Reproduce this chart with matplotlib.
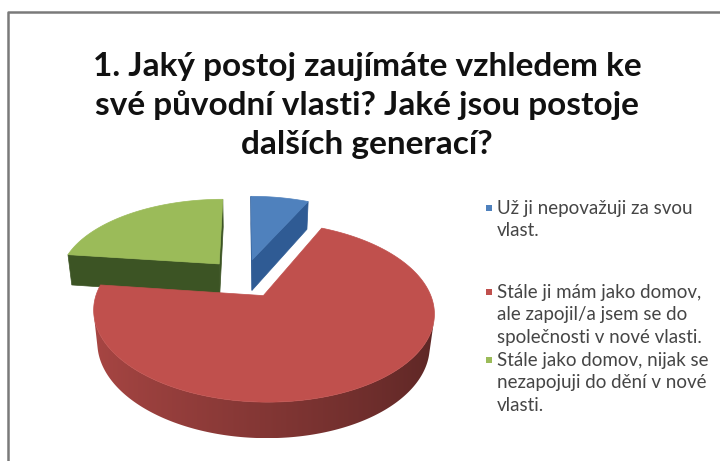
import numpy as np
import matplotlib
matplotlib.use("Agg")
import matplotlib.pyplot as plt
from matplotlib.patches import Polygon, Rectangle
from matplotlib.colors import to_rgb

# data
title_lines = ["1. Jaký postoj zaujímáte vzhledem ke",
               "své původní vlasti? Jaké jsou postoje",
               "dalších generací?"]
labels = ["Už ji nepovažuji za svou\nvlast.",
          "Stále ji mám jako domov,\nale zapojil/a jsem se do\nspolečnosti v nové vlasti.",
          "Stále jako domov, nijak se\nnezapojuji do dění v nové\nvlasti."]
values = [7, 70, 23]
colors = ["#4f81bd", "#c0504d", "#9bbb59"]
cut_colors = ["#2f5b94", "#7a2b29", "#3c5424"]

# 3d view settings
elev = np.radians(30)
dist = 4.9
focal = 790
cx, cy = 244, 278
thick = 0.23
explode = 0.24

cam = np.array([0.0, -dist * np.cos(elev), dist * np.sin(elev)])


def project(x, y, z):
    up = y * np.sin(elev) + z * np.cos(elev)
    d = dist + y * np.cos(elev) - z * np.sin(elev)
    return cx + focal * x / d, cy - focal * up / d


def facing(normal, point):
    return np.dot(normal, cam - point) > 0


fig = plt.figure(figsize=(7.2, 4.61), dpi=100)
ax = fig.add_axes([0, 0, 1, 1])
ax.axis("off")

# frame lines
ax.plot([8, 8, 720], [461, 12, 12], color="#7a7a7a", lw=1.8, solid_capstyle="butt")

total = float(sum(values))
fracs = np.array(values) / total
starts = 90 - 360 * np.concatenate([[0], np.cumsum(fracs)[:-1]])
ends = starts - 360 * fracs

slices = []
for i in range(len(values)):
    mid = np.radians((starts[i] + ends[i]) / 2)
    ox, oy = explode * np.cos(mid), explode * np.sin(mid)
    slices.append((oy, i, ox))

z = 2
# back slices first
for oy, i, ox in sorted(slices, reverse=True):
    th = np.radians(np.linspace(starts[i], ends[i], max(int(abs(starts[i] - ends[i])) + 2, 3)))
    rx, ry = ox + np.cos(th), oy + np.sin(th)

    # radial cut faces
    for a, sign in [(th[0], 1), (th[-1], -1)]:
        n = sign * np.array([-np.sin(a), np.cos(a), 0])
        p = np.array([ox + 0.5 * np.cos(a), oy + 0.5 * np.sin(a), -thick / 2])
        if facing(n, p):
            pts = [project(ox, oy, 0), project(ox + np.cos(a), oy + np.sin(a), 0),
                   project(ox + np.cos(a), oy + np.sin(a), -thick), project(ox, oy, -thick)]
            ax.add_patch(Polygon(pts, closed=True, fc=cut_colors[i], ec=cut_colors[i],
                                 lw=0.5, zorder=z))
            z += 1

    # outer wall, shaded by angle
    am = (th[:-1] + th[1:]) / 2
    vis = [facing(np.array([np.cos(a), np.sin(a), 0]),
                  np.array([ox + np.cos(a), oy + np.sin(a), -thick / 2])) for a in am]
    idx = np.where(vis)[0]
    if len(idx):
        seg = th[idx[0]:idx[-1] + 2]
        tx, ty = project(ox + np.cos(seg), oy + np.sin(seg), 0)
        bx, by = project(ox + np.cos(seg), oy + np.sin(seg), -thick)
        wall = Polygon(np.column_stack([np.r_[tx, bx[::-1]], np.r_[ty, by[::-1]]]),
                       closed=True, fc="none", ec="none", zorder=z)
        ax.add_patch(wall)
        xs = np.arange(np.floor(min(tx.min(), bx.min())), np.ceil(max(tx.max(), bx.max())) + 1)
        order = np.argsort(tx)
        ang = np.interp(xs, tx[order], seg[order])
        fac = 0.68 + 0.2 * np.cos(ang - np.pi)
        img = np.clip(np.array(to_rgb(colors[i]))[None, None, :] * fac[None, :, None], 0, 1)
        y0, y1 = min(ty.min(), by.min()), max(ty.max(), by.max())
        im = ax.imshow(img, extent=[xs[0], xs[-1], y1, y0], aspect="auto",
                       interpolation="bilinear", zorder=z)
        im.set_clip_path(wall)
        z += 1

    # top face
    top = [project(ox, oy, 0)] + [project(x, y, 0) for x, y in zip(rx, ry)]
    ax.add_patch(Polygon(top, closed=True, fc=colors[i], ec=colors[i], lw=0.5, zorder=z))
    z += 1

ax.set_xlim(0, 720)
ax.set_ylim(461, 0)

# title
for j, line in enumerate(title_lines):
    ax.text(367, 76 + 39 * j, line, ha="center", va="baseline",
            fontsize=24, fontweight="bold", family="Lato", color="#111111")

# legend
leg_y = [208, 292, 360]
for j, lab in enumerate(labels):
    ax.add_patch(Rectangle((486, leg_y[j] - 3), 6, 6, fc=colors[j], ec="none"))
    for m, part in enumerate(lab.split("\n")):
        ax.text(497, leg_y[j] + 22.5 * m, part, ha="left", va="center",
                fontsize=13.5, family="Lato", color="#454545")

fig.savefig("out.png", dpi=100, facecolor="white")
